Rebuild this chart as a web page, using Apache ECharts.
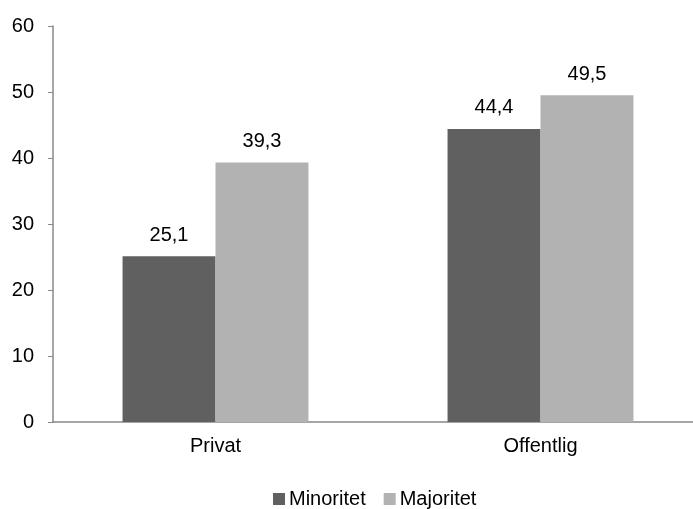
<!DOCTYPE html>
<html><head><meta charset="utf-8">
<script src="https://cdn.jsdelivr.net/npm/echarts@6/dist/echarts.min.js"></script>
<style>html,body{margin:0;padding:0;background:#fff}#c{width:693px;height:509px}</style>
</head><body><div id="c"></div>
<script>
const categories = ['Privat', 'Offentlig'];
const minoritet = [25.1, 44.4];
const majoritet = [39.3, 49.5];
const seriesNames = ['Minoritet', 'Majoritet'];
const fmt = p => String(p.value).replace('.', ',');
const chart = echarts.init(document.getElementById('c'));
const font = 'Liberation Sans, Arial, sans-serif';
chart.setOption({
  animation: false,
  textStyle: {fontFamily: font},
  grid: {left: 53, top: 26, width: 650, height: 396, outerBoundsMode: 'none', containLabel: false},
  legend: {
    top: 484, left: 268, itemWidth: 12, itemHeight: 12, itemGap: 18,
    icon: 'rect',
    textStyle: {fontSize: 20, color: '#000', fontFamily: font, padding: [0,0,0,-1]},
    data: seriesNames
  },
  xAxis: {
    type: 'category', data: categories,
    axisLine: {lineStyle: {color: '#888', width: 1.5}},
    axisTick: {length: 6, lineStyle: {color: '#888'}},
    axisLabel: {fontSize: 20, color: '#000', margin: 14, fontFamily: font}
  },
  yAxis: {
    type: 'value', min: 0, max: 60, interval: 10,
    axisLine: {show: true, lineStyle: {color: '#888', width: 1.5}},
    axisTick: {show: true, length: 5, lineStyle: {color: '#888'}},
    splitLine: {show: false},
    axisLabel: {fontSize: 20, color: '#000', margin: 19, fontFamily: font}
  },
  series: [
    {name: seriesNames[0], type: 'bar', data: minoritet, barGap: '0%', barCategoryGap: '42.8%',
     itemStyle: {color: '#606060'},
     label: {show: true, position: 'top', distance: 11, fontSize: 20, color: '#000', formatter: fmt, fontFamily: font}},
    {name: seriesNames[1], type: 'bar', data: majoritet, barGap: '0%', barCategoryGap: '42.8%',
     itemStyle: {color: '#b2b2b2'},
     label: {show: true, position: 'top', distance: 11, fontSize: 20, color: '#000', formatter: fmt, fontFamily: font}}
  ]
});
</script></body></html>
